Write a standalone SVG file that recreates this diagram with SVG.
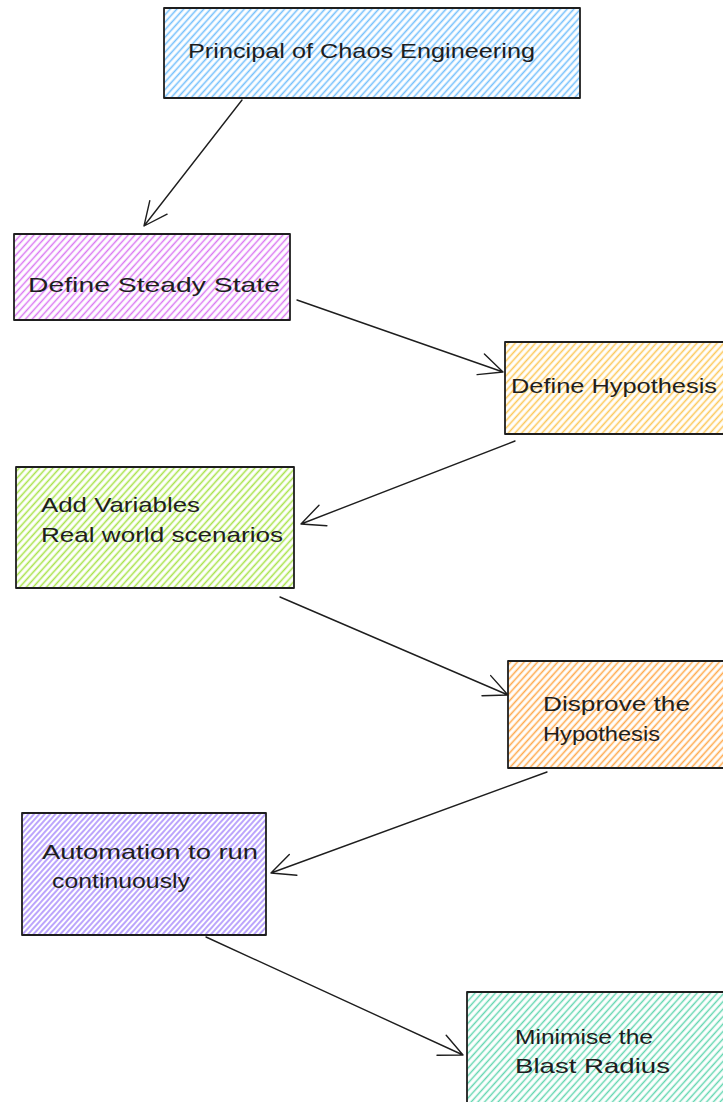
<svg xmlns="http://www.w3.org/2000/svg" width="723" height="1102" viewBox="0 0 723 1102">
<style>
.box{stroke:#1e1e1e;stroke-width:1.8;stroke-linejoin:round}
.t{font-family:"Liberation Sans",Arial,sans-serif;font-size:21px;fill:#1e1e1e}
.c{fill:none;stroke:#1e1e1e;stroke-width:1.4;stroke-linecap:round;stroke-linejoin:round}
</style>
<defs>
<pattern id="hBlue" width="5" height="10" patternUnits="userSpaceOnUse" patternTransform="rotate(42)"><line x1="2.5" y1="0" x2="2.5" y2="10" stroke="#74c0fc" stroke-width="1.6"/></pattern>
<pattern id="hPurple" width="5" height="10" patternUnits="userSpaceOnUse" patternTransform="rotate(42)"><line x1="2.5" y1="0" x2="2.5" y2="10" stroke="#da77f2" stroke-width="1.5"/></pattern>
<pattern id="hYellow" width="5" height="10" patternUnits="userSpaceOnUse" patternTransform="rotate(42)"><line x1="2.5" y1="0" x2="2.5" y2="10" stroke="#fcc85a" stroke-width="1.6"/></pattern>
<pattern id="hGreen" width="5" height="10" patternUnits="userSpaceOnUse" patternTransform="rotate(42)"><line x1="2.5" y1="0" x2="2.5" y2="10" stroke="#a9e34b" stroke-width="1.6"/></pattern>
<pattern id="hOrange" width="5" height="10" patternUnits="userSpaceOnUse" patternTransform="rotate(42)"><line x1="2.5" y1="0" x2="2.5" y2="10" stroke="#ffa94d" stroke-width="1.6"/></pattern>
<pattern id="hViolet" width="4" height="10" patternUnits="userSpaceOnUse" patternTransform="rotate(42)"><line x1="2" y1="0" x2="2" y2="10" stroke="#9775fa" stroke-width="1.3"/></pattern>
<pattern id="hTeal" width="5" height="10" patternUnits="userSpaceOnUse" patternTransform="rotate(42)"><line x1="2.5" y1="0" x2="2.5" y2="10" stroke="#63d6b0" stroke-width="1.5"/></pattern>
</defs>
<rect width="723" height="1102" fill="#ffffff"/>

<g id="connectors">
<path class="c" d="M242 100 L144 226 M167.1 214.2 L144 226 L149.8 200.6"/>
<path class="c" d="M297 300 L503 372 M484.4 353.9 L503 372 L477.1 374.6"/>
<path class="c" d="M515 441 L301 524 M326.9 525.7 L301 524 L319 505.2"/>
<path class="c" d="M280 597 L508 695 M490.7 675.6 L508 695 L482 695.8"/>
<path class="c" d="M547 772 L271 873 M296.9 875.2 L271 873 L289.3 854.6"/>
<path class="c" d="M206 937 L463 1055 M446.2 1035.2 L463 1055 L437 1055.2"/>
</g>

<g id="node-principal">
<rect class="box" x="164" y="8" width="416" height="90" fill="url(#hBlue)"/>
<text class="t" x="188" y="58" textLength="347" lengthAdjust="spacingAndGlyphs">Principal of Chaos Engineering</text>
</g>

<g id="node-steady">
<rect class="box" x="14" y="234" width="276" height="86" fill="url(#hPurple)"/>
<text class="t" x="28" y="292" textLength="252" lengthAdjust="spacingAndGlyphs">Define Steady State</text>
</g>

<g id="node-hypothesis">
<rect class="box" x="505" y="342" width="230" height="92" fill="url(#hYellow)"/>
<text class="t" x="511" y="393" textLength="206" lengthAdjust="spacingAndGlyphs">Define Hypothesis</text>
</g>

<g id="node-variables">
<rect class="box" x="16" y="467" width="278" height="121" fill="url(#hGreen)"/>
<text class="t" x="41" y="512" textLength="159" lengthAdjust="spacingAndGlyphs">Add Variables</text>
<text class="t" x="41" y="542" textLength="242" lengthAdjust="spacingAndGlyphs">Real world scenarios</text>
</g>

<g id="node-disprove">
<rect class="box" x="508" y="661" width="230" height="107" fill="url(#hOrange)"/>
<text class="t" x="543" y="711" textLength="147" lengthAdjust="spacingAndGlyphs">Disprove the</text>
<text class="t" x="543" y="741" textLength="117" lengthAdjust="spacingAndGlyphs">Hypothesis</text>
</g>

<g id="node-automation">
<rect class="box" x="22" y="813" width="244" height="122" fill="url(#hViolet)"/>
<text class="t" x="42" y="859" textLength="216" lengthAdjust="spacingAndGlyphs">Automation to run</text>
<text class="t" x="52" y="888" textLength="138" lengthAdjust="spacingAndGlyphs">continuously</text>
</g>

<g id="node-blast">
<rect class="box" x="467" y="992" width="270" height="120" fill="url(#hTeal)"/>
<text class="t" x="515" y="1044" textLength="138" lengthAdjust="spacingAndGlyphs">Minimise the</text>
<text class="t" x="515" y="1073" textLength="155" lengthAdjust="spacingAndGlyphs">Blast Radius</text>
</g>
</svg>
